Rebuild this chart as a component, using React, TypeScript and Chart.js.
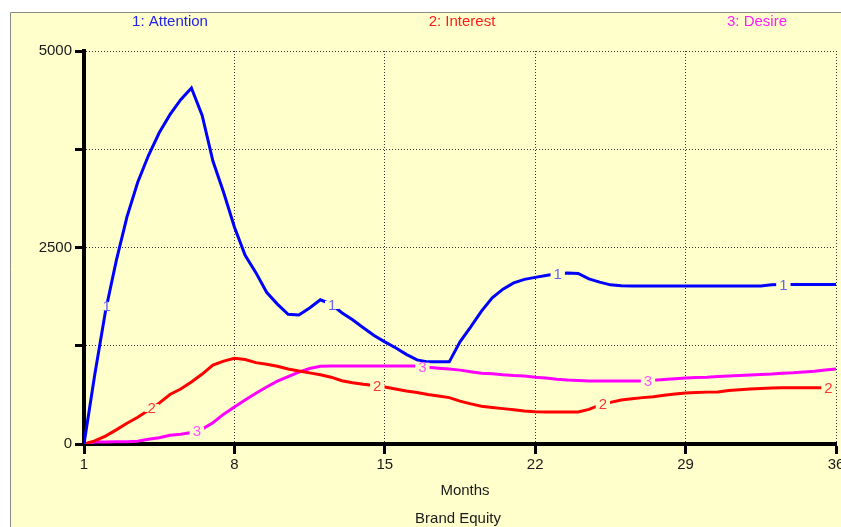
import React, { useEffect, useRef } from "react";
import { Chart, registerables } from "chart.js";

Chart.register(...registerables);

// Months (x values of the simulation output)
const months = [
  1, 1.5, 2, 2.5, 3, 3.5, 4, 4.5, 5, 5.5, 6, 6.5, 7, 7.5, 8, 8.5, 9, 9.5, 10, 10.5,
  11, 11.5, 12, 12.5, 13, 13.5, 14, 14.5, 15, 15.5, 16, 16.5, 17, 17.5, 18, 18.5, 19, 19.5, 20, 20.5,
  21, 21.5, 22, 22.5, 23, 23.5, 24, 24.5, 25, 25.5, 26, 26.5, 27, 27.5, 28, 28.5, 29, 29.5, 30, 30.5,
  31, 31.5, 32, 32.5, 33, 33.5, 34, 34.5, 35, 35.5, 36,
];

const attention = [
  0, 880, 1690, 2330, 2890, 3330, 3670, 3960, 4190, 4380, 4530, 4180, 3600, 3200, 2760, 2400, 2180, 1930, 1780, 1650,
  1641, 1730, 1835, 1780, 1670, 1580, 1480, 1380, 1300, 1225, 1140, 1070, 1045, 1045, 1045, 1300, 1490, 1690, 1860, 1970,
  2050, 2095, 2120, 2145, 2165, 2176, 2170, 2100, 2060, 2025, 2012, 2010, 2010, 2010, 2010, 2010, 2010, 2010, 2010, 2010,
  2010, 2010, 2010, 2010, 2025, 2030, 2030, 2030, 2030, 2030, 2030,
];

const interest = [
  0, 40, 100, 180, 265, 340, 430, 520, 630, 700, 790, 890, 1005, 1055, 1090, 1075, 1035, 1015, 990, 955,
  930, 905, 880, 850, 805, 780, 760, 745, 725, 700, 675, 655, 630, 610, 590, 545, 510, 480, 465, 450,
  435, 420, 410, 407, 407, 407, 407, 440, 495, 530, 560, 575, 590, 600, 620, 635, 650, 655, 660, 662,
  680, 690, 700, 705, 712, 715, 715, 715, 715, 715, 715,
];

const desire = [
  0, 25, 25, 28, 30, 35, 60, 80, 110, 125, 145, 190, 270, 380, 470, 560, 645, 725, 800, 858,
  915, 960, 990, 992, 992, 992, 992, 992, 992, 992, 992, 992, 975, 965, 955, 940, 920, 900, 895, 880,
  870, 865, 850, 840, 825, 814, 808, 801, 801, 801, 801, 801, 801, 810, 820, 830, 840, 845, 850, 860,
  865, 870, 878, 885, 890, 900, 905, 915, 925, 940, 954,
];

const seriesNames = ["1: Attention", "2: Interest", "3: Desire"];
const seriesMarks = ["1", "2", "3"];
const labelMonths = [
  [2.05, 12.55, 23.05, 33.55],
  [4.15, 14.65, 25.15, 35.65],
  [6.25, 16.75, 27.25],
];
const xTickValues = [1, 8, 15, 22, 29, 36];
const yLabelledTicks = [0, 2500, 5000];
const xTitle = "Months";
const chartTitle = "Brand Equity";

const lineColors = ["#0000FF", "#FF0000", "#FF00FF"];
const headerColors = ["#2323E6", "#FF1A1A", "#FF1AFF"];
const markColors = ["#6464F0", "#FF3535", "#FF50FF"];
const BG = "#FFFFCC";
const FONT = "'Liberation Sans', Arial, sans-serif";

function valueAt(series: number[], m: number): number {
  for (let i = 0; i < months.length - 1; i++) {
    if (m >= months[i] && m <= months[i + 1]) {
      const t = (m - months[i]) / (months[i + 1] - months[i]);
      return series[i] + t * (series[i + 1] - series[i]);
    }
  }
  return series[series.length - 1];
}

const allSeries = [attention, interest, desire];

const framePlugin = {
  id: "frame",
  beforeDraw(chart: any) {
    const { ctx, width, height } = chart;
    ctx.save();
    ctx.fillStyle = "#FFFFFF";
    ctx.fillRect(0, 0, width, height);
    ctx.fillStyle = BG;
    ctx.fillRect(10, 12, width - 10, height - 12);
    ctx.strokeStyle = "#8A8A8A";
    ctx.lineWidth = 1;
    ctx.beginPath();
    ctx.moveTo(10.5, height);
    ctx.lineTo(10.5, 12.5);
    ctx.lineTo(width, 12.5);
    ctx.stroke();
    ctx.restore();
  },
  afterDraw(chart: any) {
    const { ctx } = chart;
    ctx.save();
    ctx.font = `15px ${FONT}`;
    ctx.textAlign = "center";
    ctx.textBaseline = "middle";
    const headerX = [170, 462, 757];
    seriesNames.forEach((n, i) => {
      ctx.fillStyle = headerColors[i];
      ctx.fillText(n, headerX[i], 22);
    });
    ctx.fillStyle = "#1a1a1a";
    ctx.fillText(xTitle, 465, 491);
    ctx.fillText(chartTitle, 458, 519);
    ctx.restore();
  },
};

const markPlugin = {
  id: "marks",
  afterDatasetsDraw(chart: any) {
    const { ctx } = chart;
    const xs = chart.scales.x;
    const ys = chart.scales.y;
    ctx.save();
    ctx.font = `15px ${FONT}`;
    ctx.textAlign = "center";
    ctx.textBaseline = "middle";
    labelMonths.forEach((list, i) => {
      list.forEach((m) => {
        const v = valueAt(allSeries[i], m);
        const x = xs.getPixelForValue(m);
        const y = ys.getPixelForValue(v);
        const w = ctx.measureText(seriesMarks[i]).width;
        ctx.fillStyle = BG;
        ctx.fillRect(x - w / 2 - 3, y - 4, w + 6, 8);
        ctx.fillStyle = markColors[i];
        ctx.fillText(seriesMarks[i], x, y + 1);
      });
    });
    ctx.restore();
  },
};

export default function App() {
  const ref = useRef<HTMLCanvasElement>(null);

  useEffect(() => {
    if (!ref.current) return;
    const chart = new Chart(ref.current, {
      type: "line",
      data: {
        labels: months,
        datasets: allSeries.map((s, i) => ({
          label: seriesNames[i],
          data: s.map((v, k) => ({ x: months[k], y: v })),
          borderColor: lineColors[i],
          backgroundColor: lineColors[i],
          borderWidth: 3,
          pointRadius: 0,
          tension: 0,
          fill: false,
        })),
      },
      options: {
        responsive: false,
        animation: false,
        events: [],
        layout: { padding: { left: 0, top: 51, right: 5, bottom: 0 } },
        plugins: {
          legend: { display: false },
          tooltip: { enabled: false },
          title: { display: false },
        },
        scales: {
          x: {
            type: "linear",
            min: 1,
            max: 36,
            afterBuildTicks: (scale: any) => {
              scale.ticks = xTickValues.map((v) => ({ value: v }));
            },
            afterFit: (scale: any) => {
              scale.height = 83;
              scale.paddingLeft = 0;
              scale.paddingRight = 0;
            },
            ticks: {
              color: "#1a1a1a",
              font: { family: FONT, size: 15 },
              padding: 2,
              maxRotation: 0,
              autoSkip: false,
            },
            grid: {
              color: "#3a3a3a",
              lineWidth: 1,
              drawTicks: true,
              tickLength: 10,
              tickColor: "#000000",
              tickWidth: 3,
              tickBorderDash: [],
            },
            border: { display: true, color: "#000000", width: 4, dash: [1, 2] },
          },
          y: {
            type: "linear",
            min: 0,
            max: 5000,
            afterFit: (scale: any) => {
              scale.width = 84;
              scale.paddingTop = 0;
              scale.paddingBottom = 0;
            },
            ticks: {
              stepSize: 1250,
              color: "#1a1a1a",
              font: { family: FONT, size: 15 },
              padding: 3,
              callback: (v: any) => (yLabelledTicks.includes(Number(v)) ? String(v) : ""),
            },
            grid: {
              color: "#3a3a3a",
              lineWidth: 1,
              drawTicks: true,
              tickLength: 9,
              tickColor: "#000000",
              tickWidth: 3,
              tickBorderDash: [],
            },
            border: { display: true, color: "#000000", width: 4, dash: [1, 2] },
          },
        },
      },
      plugins: [framePlugin, markPlugin],
    } as any);
    return () => chart.destroy();
  }, []);

  return (
    <div style={{ position: "absolute", left: 0, top: 0, width: 841, height: 527 }}>
      <canvas ref={ref} width={841} height={527} style={{ display: "block", width: 841, height: 527 }} />
    </div>
  );
}
